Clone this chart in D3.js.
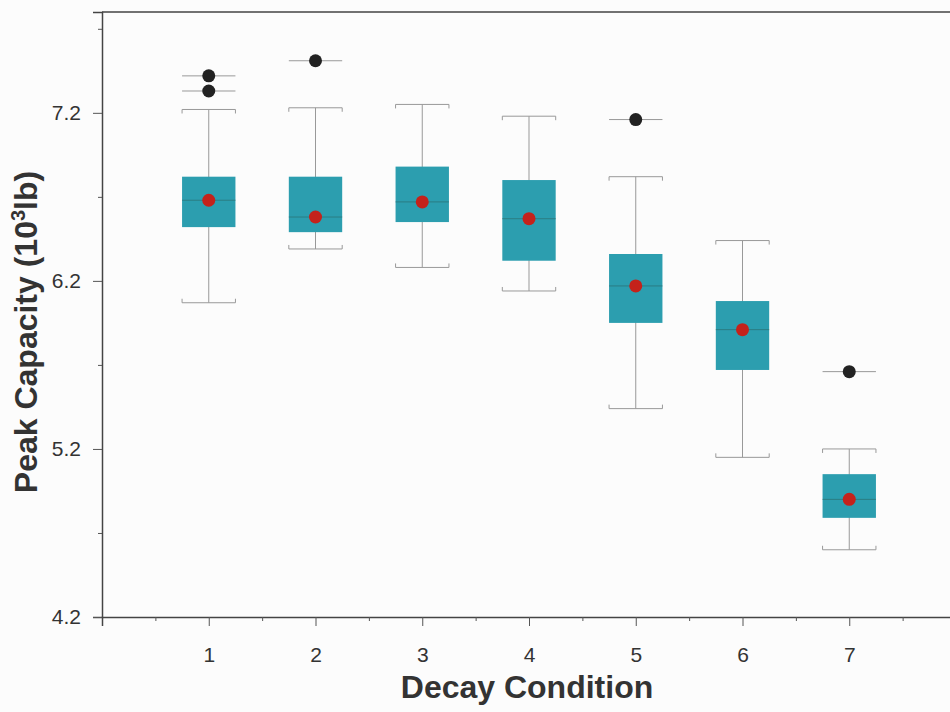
<!DOCTYPE html>
<html>
<head>
<meta charset="utf-8">
<script src="https://cdn.jsdelivr.net/npm/d3@7"></script>
<style>
  body { margin: 0; background: #fcfcfc; }
  svg { display: block; }
</style>
</head>
<body>
<div id="chart"></div>
<script>
// Box plot data
const categories = [1, 2, 3, 4, 5, 6, 7];
const q1 = [6.52, 6.49, 6.55, 6.32, 5.95, 5.67, 4.79];
const q3 = [6.82, 6.82, 6.88, 6.80, 6.36, 6.08, 5.05];
const medians = [6.68, 6.58, 6.67, 6.57, 6.17, 5.91, 4.90];
const means = [6.68, 6.58, 6.67, 6.57, 6.17, 5.91, 4.90];
const whiskerLow = [6.07, 6.39, 6.28, 6.14, 5.44, 5.15, 4.60];
const whiskerHigh = [7.22, 7.23, 7.25, 7.18, 6.82, 6.44, 5.20];
const outliers = [[7.42, 7.33], [7.51], [], [], [7.16], [], [5.66]];

const yMajorTicks = [4.2, 5.2, 6.2, 7.2];
const yMinorTicks = [4.7, 5.7, 6.7, 7.7];
const xMinorTicks = [0.5, 1.5, 2.5, 3.5, 4.5, 5.5, 6.5, 7.5];

const width = 950;
const height = 712;

const svg = d3.select("#chart")
    .append("svg")
    .attr("width", width)
    .attr("height", height)
    .style("font-family", "Liberation Sans, Arial, sans-serif");

// Scales
const x = d3.scaleLinear().domain([0, 8]).range([102, 956]);
const y = d3.scaleLinear().domain([4.2, 7.8]).range([617, 12]);
const boxW = x(0.5) - x(0);

const boxes = categories.map((c, i) => ({
    cat: c, q1: q1[i], q3: q3[i], median: medians[i], mean: means[i],
    lo: whiskerLow[i], hi: whiskerHigh[i], out: outliers[i]
}));

// Top frame line
svg.append("line")
    .attr("x1", x(0)).attr("x2", width)
    .attr("y1", y(7.8)).attr("y2", y(7.8))
    .attr("stroke", "#444").attr("stroke-width", 1.5);

// Whiskers
const g = svg.append("g");
g.selectAll(".whisker")
    .data(boxes)
    .enter().append("line")
    .attr("x1", d => x(d.cat)).attr("x2", d => x(d.cat))
    .attr("y1", d => y(d.lo)).attr("y2", d => y(d.hi))
    .attr("stroke", "#999").attr("stroke-width", 1);

// Caps, bracket shaped with ends pointing to the box
function capPath(d, v, dir) {
    const x0 = x(d.cat) - boxW / 2, x1 = x(d.cat) + boxW / 2, yy = y(v);
    return `M${x0},${yy + dir * 4}V${yy}H${x1}V${yy + dir * 4}`;
}
g.selectAll(".capHi")
    .data(boxes)
    .enter().append("path")
    .attr("d", d => capPath(d, d.hi, 1))
    .attr("fill", "none").attr("stroke", "#999").attr("stroke-width", 1);
g.selectAll(".capLo")
    .data(boxes)
    .enter().append("path")
    .attr("d", d => capPath(d, d.lo, -1))
    .attr("fill", "none").attr("stroke", "#999").attr("stroke-width", 1);

// Boxes
g.selectAll(".box")
    .data(boxes)
    .enter().append("rect")
    .attr("x", d => x(d.cat) - boxW / 2)
    .attr("y", d => y(d.q3))
    .attr("width", boxW)
    .attr("height", d => y(d.q1) - y(d.q3))
    .attr("fill", "#2c9eaf");

// Median lines
g.selectAll(".median")
    .data(boxes)
    .enter().append("line")
    .attr("x1", d => x(d.cat) - boxW / 2).attr("x2", d => x(d.cat) + boxW / 2)
    .attr("y1", d => y(d.median)).attr("y2", d => y(d.median))
    .attr("stroke", "#2a7478").attr("stroke-width", 1)
    .attr("stroke-opacity", 0.8);

// Outliers: short line plus dark dot
const outData = boxes.flatMap(d => d.out.map(v => ({ cat: d.cat, v: v })));
g.selectAll(".outLine")
    .data(outData)
    .enter().append("line")
    .attr("x1", d => x(d.cat) - boxW / 2).attr("x2", d => x(d.cat) + boxW / 2)
    .attr("y1", d => y(d.v)).attr("y2", d => y(d.v))
    .attr("stroke", "#999").attr("stroke-width", 1);
g.selectAll(".outDot")
    .data(outData)
    .enter().append("circle")
    .attr("cx", d => x(d.cat)).attr("cy", d => y(d.v))
    .attr("r", 6.5)
    .attr("fill", "#222");

// Mean dots
g.selectAll(".mean")
    .data(boxes)
    .enter().append("circle")
    .attr("cx", d => x(d.cat)).attr("cy", d => y(d.mean))
    .attr("r", 6.5)
    .attr("fill", "#c4221b");

// Y axis, major and minor ticks
svg.append("g")
    .attr("transform", `translate(${x(0)},0)`)
    .call(d3.axisLeft(y).tickValues(yMajorTicks).tickSize(9).tickPadding(12)
        .tickFormat(d3.format(".1f")));
svg.append("g")
    .attr("transform", `translate(${x(0)},0)`)
    .call(d3.axisLeft(y).tickValues(yMinorTicks).tickSize(4).tickFormat(""))
    .select(".domain").remove();

// X axis, major and minor ticks
svg.append("g")
    .attr("transform", `translate(0,${y(4.2)})`)
    .call(d3.axisBottom(x).tickValues(categories).tickSize(9).tickPadding(21)
        .tickFormat(d3.format("d")));
svg.append("g")
    .attr("transform", `translate(0,${y(4.2)})`)
    .call(d3.axisBottom(x).tickValues(xMinorTicks).tickSize(4).tickFormat(""))
    .select(".domain").remove();

svg.selectAll(".domain").attr("stroke", "#444").attr("stroke-width", 1.5);
svg.selectAll(".tick line").attr("stroke", "#555");
svg.selectAll(".tick text")
    .attr("fill", "#333")
    .style("font-size", "21px")
    .style("font-family", "Liberation Sans, Arial, sans-serif");

// Axis titles
svg.append("text")
    .attr("x", 527)
    .attr("y", 698)
    .attr("text-anchor", "middle")
    .attr("fill", "#333")
    .style("font-size", "32px")
    .style("font-weight", "bold")
    .text("Decay Condition");

const yTitle = svg.append("text")
    .attr("transform", "translate(37,332) rotate(-90)")
    .attr("text-anchor", "middle")
    .attr("fill", "#333")
    .style("font-size", "32px")
    .style("font-weight", "bold");
yTitle.append("tspan").text("Peak Capacity (10");
yTitle.append("tspan").attr("dy", -12).style("font-size", "20px").text("3");
yTitle.append("tspan").attr("dy", 12).text("lb)");
</script>
</body>
</html>
